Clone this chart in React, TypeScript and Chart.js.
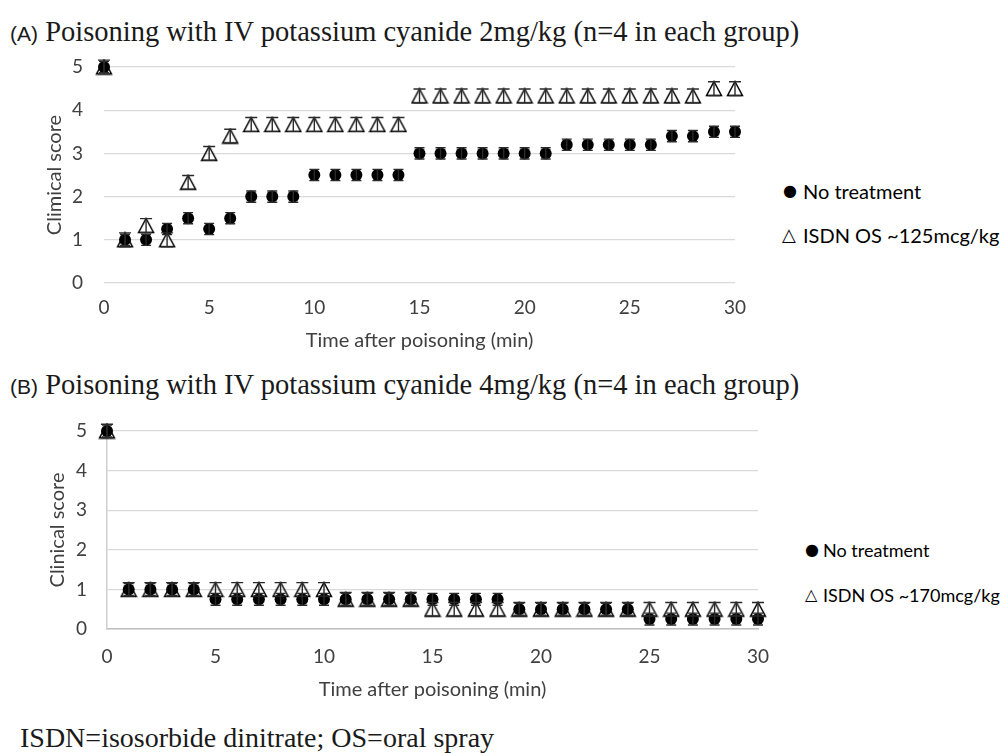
import React, { useEffect, useRef } from 'react';
import { Chart, registerables } from 'chart.js';

Chart.register(...registerables);

// ---------- data ----------
const timeMin = [0, 1, 2, 3, 4, 5, 6, 7, 8, 9, 10, 11, 12, 13, 14, 15, 16, 17, 18, 19, 20, 21, 22, 23, 24, 25, 26, 27, 28, 29, 30];

const noTreatmentA = [5, 1, 1, 1.25, 1.5, 1.25, 1.5, 2, 2, 2, 2.5, 2.5, 2.5, 2.5, 2.5, 3, 3, 3, 3, 3, 3, 3, 3.2, 3.2, 3.2, 3.2, 3.2, 3.4, 3.4, 3.5, 3.5];
const isdnA = [5, 1, 1.33, 1, 2.33, 3, 3.4, 3.67, 3.67, 3.67, 3.67, 3.67, 3.67, 3.67, 3.67, 4.33, 4.33, 4.33, 4.33, 4.33, 4.33, 4.33, 4.33, 4.33, 4.33, 4.33, 4.33, 4.33, 4.33, 4.5, 4.5];

const noTreatmentB = [5, 1, 1, 1, 1, 0.75, 0.75, 0.75, 0.75, 0.75, 0.75, 0.75, 0.75, 0.75, 0.75, 0.75, 0.75, 0.75, 0.75, 0.5, 0.5, 0.5, 0.5, 0.5, 0.5, 0.25, 0.25, 0.25, 0.25, 0.25, 0.25];
const isdnB = [5, 1, 1, 1, 1, 1, 1, 1, 1, 1, 1, 0.75, 0.75, 0.75, 0.75, 0.5, 0.5, 0.5, 0.5, 0.5, 0.5, 0.5, 0.5, 0.5, 0.5, 0.5, 0.5, 0.5, 0.5, 0.5, 0.5];

const errNoTreatmentA = 0.13;
const errIsdnA = 0.16;
const errNoTreatmentB = 0.15;
const errIsdnB = 0.17;

const xTickStep = 5;
const yTickStep = 1;

const FONT = 'Lato, "Noto Sans", sans-serif';
const TEXT_COLOR = '#404040';
const SERIF = '"Liberation Serif", "Times New Roman", serif';

// ---------- helpers ----------
function makeTriangle(): HTMLCanvasElement {
  const c = document.createElement('canvas');
  c.width = 18;
  c.height = 17;
  const g = c.getContext('2d')!;
  g.strokeStyle = '#000';
  g.lineWidth = 1.5;
  g.beginPath();
  g.moveTo(9, 1.5);
  g.lineTo(16.5, 15.5);
  g.lineTo(1.5, 15.5);
  g.closePath();
  g.stroke();
  return c;
}

const errorBarPlugin = {
  id: 'errorBars',
  afterDatasetsDraw(chart: any) {
    const ctx = chart.ctx;
    const yScale = chart.scales.y;
    chart.data.datasets.forEach((ds: any, i: number) => {
      const meta = chart.getDatasetMeta(i);
      const err = ds.errorBar as number;
      const cap = ds.capHalf as number;
      ctx.save();
      ctx.strokeStyle = '#2a2a2a';
      ctx.lineWidth = 1.4;
      meta.data.forEach((pt: any, j: number) => {
        const v = ds.data[j].y;
        const x = pt.x;
        const yt = yScale.getPixelForValue(v + err);
        const yb = yScale.getPixelForValue(v - err);
        ctx.beginPath();
        ctx.moveTo(x, yt);
        ctx.lineTo(x, yb);
        ctx.moveTo(x - cap, yt);
        ctx.lineTo(x + cap, yt);
        ctx.moveTo(x - cap, yb);
        ctx.lineTo(x + cap, yb);
        ctx.stroke();
      });
      ctx.restore();
    });
  },
};

type PanelProps = {
  top: number;
  width: number;
  height: number;
  circles: number[];
  triangles: number[];
  errCircle: number;
  errTriangle: number;
  yTitle: string;
  yAxisWidth: number;
  xAxisHeight: number;
  padTop: number;
  padRight: number;
  yTickPad: number;
  yTitlePad: number;
  xTickPad: number;
  xTitlePad: number;
  axisLines: boolean;
  circleRadius: number;
};

function Panel(p: PanelProps) {
  const ref = useRef<HTMLCanvasElement | null>(null);
  useEffect(() => {
    if (!ref.current) return;
    const tri = makeTriangle();
    const chart = new Chart(ref.current, {
      type: 'scatter',
      data: {
        datasets: [
          {
            label: 'ISDN',
            data: timeMin.map((t, i) => ({ x: t, y: p.triangles[i] })),
            pointStyle: tri as any,
            pointRadius: 8,
            borderColor: '#000',
            backgroundColor: 'rgba(0,0,0,0)',
            order: 0,
            clip: false,
            errorBar: p.errTriangle,
            capHalf: 6,
          } as any,
          {
            label: 'No treatment',
            data: timeMin.map((t, i) => ({ x: t, y: p.circles[i] })),
            pointStyle: 'circle',
            pointRadius: p.circleRadius,
            borderWidth: 0,
            borderColor: '#000',
            backgroundColor: '#000',
            order: 1,
            clip: false,
            errorBar: p.errCircle,
            capHalf: 5,
          } as any,
        ],
      },
      options: {
        animation: false,
        responsive: false,
        events: [],
        layout: { padding: { top: p.padTop, right: p.padRight, left: 0, bottom: 0 } },
        plugins: { legend: { display: false }, tooltip: { enabled: false }, title: { display: false } },
        scales: {
          x: {
            type: 'linear',
            min: 0,
            max: 30,
            afterFit: (s: any) => {
              s.height = p.xAxisHeight;
            },
            ticks: {
              stepSize: xTickStep,
              padding: 0,
              color: TEXT_COLOR,
              font: { family: FONT, size: 19 },
            },
            grid: { display: false, drawTicks: true, tickLength: p.xTickPad },
            border: p.axisLines ? { display: true, color: '#bfbfbf', width: 1.5 } : { display: false },
            title: {
              display: true,
              text: 'Time after poisoning (min)',
              color: TEXT_COLOR,
              font: { family: FONT, size: 20 },
              padding: { top: 0, bottom: p.xTitlePad },
            },
          },
          y: {
            type: 'linear',
            min: 0,
            max: 5,
            afterFit: (s: any) => {
              s.width = p.yAxisWidth;
            },
            ticks: {
              stepSize: yTickStep,
              padding: 0,
              color: TEXT_COLOR,
              font: { family: FONT, size: 19 },
            },
            grid: {
              display: true,
              drawTicks: true,
              tickLength: p.yTickPad,
              tickColor: 'rgba(0,0,0,0)',
              color: '#d9d9d9',
              lineWidth: 1.3,
            },
            border: p.axisLines ? { display: true, color: '#d0d0d0', width: 1.5 } : { display: false },
            title: {
              display: true,
              text: p.yTitle,
              color: TEXT_COLOR,
              font: { family: FONT, size: 20 },
              padding: { top: p.yTitlePad, bottom: 0 },
            },
          },
        },
      },
      plugins: [errorBarPlugin],
    } as any);
    return () => chart.destroy();
  }, []);
  return (
    <canvas
      ref={ref}
      width={p.width}
      height={p.height}
      style={{ position: 'absolute', left: 0, top: p.top, width: p.width, height: p.height }}
    />
  );
}

function PanelTitle({ top, label, text }: { top: number; label: string; text: string }) {
  return (
    <div style={{ position: 'absolute', left: 10, top, whiteSpace: 'nowrap', lineHeight: '32px', color: '#1a1a1a' }}>
      <span style={{ fontFamily: '"Liberation Sans", Arial, sans-serif', fontSize: 21 }}>{label}</span>
      <span style={{ fontFamily: SERIF, fontSize: 28.5 }}> {text}</span>
    </div>
  );
}

function LegendItem({ sym, symX, symSize, text, textX, cy, size }: { sym: string; symX: number; symSize: number; text: string; textX: number; cy: number; size: number }) {
  return (
    <>
      <div style={{ position: 'absolute', left: symX, top: cy - 15, height: 30, lineHeight: '30px', fontFamily: '"DejaVu Sans", sans-serif', fontSize: symSize, color: '#000' }}>{sym}</div>
      <div style={{ position: 'absolute', left: textX, top: cy - 15, height: 30, lineHeight: '30px', fontFamily: FONT, fontSize: size, color: '#000', whiteSpace: 'nowrap' }}>{text}</div>
    </>
  );
}

export default function App() {
  return (
    <div style={{ position: 'fixed', left: 0, top: 0, width: 1005, height: 753, background: '#fff', overflow: 'hidden' }}>
      <PanelTitle top={16} label="(A)" text="Poisoning with IV potassium cyanide 2mg/kg (n=4 in each group)" />
      <Panel
        top={50}
        width={780}
        height={310}
        circles={noTreatmentA}
        triangles={isdnA}
        errCircle={errNoTreatmentA}
        errTriangle={errIsdnA}
        yTitle="Climical score"
        yAxisWidth={104}
        xAxisHeight={77}
        padTop={17}
        padRight={45}
        yTickPad={21}
        yTitlePad={43}
        xTickPad={13}
        xTitlePad={7}
        axisLines={false}
        circleRadius={6}
      />
      <LegendItem sym="●" symX={783} symSize={16} text="No treatment" textX={803} cy={191} size={20} />
      <LegendItem sym="△" symX={782} symSize={18} text="ISDN OS ~125mcg/kg" textX={803} cy={235} size={20} />

      <PanelTitle top={369} label="(B)" text="Poisoning with IV potassium cyanide 4mg/kg (n=4 in each group)" />
      <Panel
        top={410}
        width={780}
        height={300}
        circles={noTreatmentB}
        triangles={isdnB}
        errCircle={errNoTreatmentB}
        errTriangle={errIsdnB}
        yTitle="Clinical score"
        yAxisWidth={107}
        xAxisHeight={81}
        padTop={21}
        padRight={22}
        yTickPad={20}
        yTitlePad={46}
        xTickPad={16}
        xTitlePad={8}
        axisLines={true}
        circleRadius={6}
      />
      <LegendItem sym="●" symX={805} symSize={16} text="No treatment" textX={823} cy={550} size={18} />
      <LegendItem sym="△" symX={805} symSize={16} text="ISDN OS ~170mcg/kg" textX={823} cy={595} size={18} />

      <div style={{ position: 'absolute', left: 20, top: 722, lineHeight: '32px', fontFamily: SERIF, fontSize: 28, color: '#1a1a1a', whiteSpace: 'nowrap' }}>
        ISDN=isosorbide dinitrate; OS=oral spray
      </div>
    </div>
  );
}
